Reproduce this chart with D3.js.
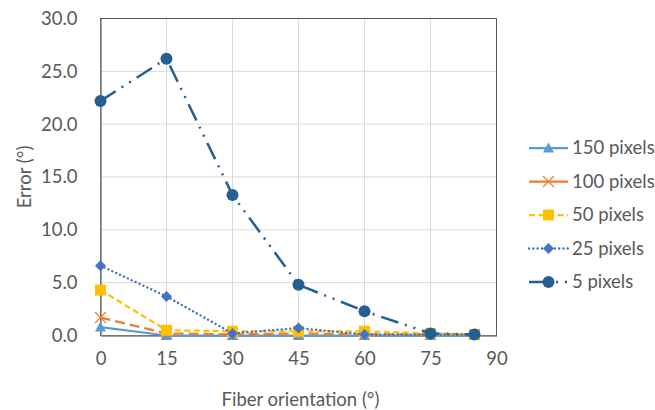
<!DOCTYPE html>
<html>
<head>
<meta charset="utf-8">
<script src="https://cdn.jsdelivr.net/npm/d3@7"></script>
<style>
  html, body { margin: 0; padding: 0; background: #fff; }
  svg { display: block; font-family: "Lato", "Open Sans", sans-serif; }
</style>
</head>
<body>
<svg id="chart" width="655" height="410"></svg>
<script>
// Fiber orientation (degrees) at which each window size was evaluated
const orientations = [0, 15, 30, 45, 60, 75, 85];

// Mean orientation error (degrees) for each window size
const err150 = [0.8, 0.0, 0.0, 0.0, 0.0, 0.0, 0.0];
const err100 = [1.7, 0.2, 0.1, 0.2, 0.1, 0.1, 0.1];
const err50  = [4.3, 0.5, 0.4, 0.4, 0.4, 0.2, 0.1];
const err25  = [6.6, 3.7, 0.2, 0.7, 0.1, 0.1, 0.1];
const err5   = [22.2, 26.2, 13.3, 4.8, 2.3, 0.2, 0.1];

const seriesNames = ["150 pixels", "100 pixels", "50 pixels", "25 pixels", "5 pixels"];
const xTicks = [0, 15, 30, 45, 60, 75, 90];
const yTicks = [0, 5, 10, 15, 20, 25, 30];

const seriesStyle = [
  { color: "#5B9BD5", dash: null,           legendDash: null,           width: 2.25, marker: "triangle" },
  { color: "#ED7D31", dash: "10,5",         legendDash: null,           width: 2.25, marker: "cross" },
  { color: "#FFC000", dash: "6,3.5",        legendDash: "6,3.5",        width: 2.25, marker: "square" },
  { color: "#4472C4", dash: "0.1,4.2",      legendDash: "0.1,4.2",      width: 2.4,  marker: "diamond", cap: "round" },
  { color: "#255E91", dash: "18,7,2,7,2,7", legendDash: "20,7,2,7,2,7", width: 2.5,  marker: "circle" }
];

const seriesValues = [err150, err100, err50, err25, err5];
const series = seriesNames.map((name, i) => ({
  name,
  style: seriesStyle[i],
  points: orientations.map((o, j) => ({ x: o, y: seriesValues[i][j] }))
}));

const svg = d3.select("#chart");
const plot = { left: 100.5, right: 496.5, top: 18.5, bottom: 335.5 };

const x = d3.scaleLinear().domain([0, 90]).range([plot.left, plot.right]);
const y = d3.scaleLinear().domain([0, 30]).range([plot.bottom, plot.top]);

const textColor = "#595959";
const fontSize = 18.5;

// Gridlines
const grid = svg.append("g");
grid.selectAll(".vg").data(xTicks.slice(1, -1)).enter().append("line")
  .attr("x1", d => x(d)).attr("x2", d => x(d))
  .attr("y1", plot.top).attr("y2", plot.bottom)
  .attr("stroke", "#D9D9D9").attr("stroke-width", 1);
grid.selectAll(".hg").data(yTicks.slice(1, -1)).enter().append("line")
  .attr("x1", plot.left).attr("x2", plot.right)
  .attr("y1", d => y(d)).attr("y2", d => y(d))
  .attr("stroke", "#D9D9D9").attr("stroke-width", 1);

// Plot-area border
svg.append("rect")
  .attr("x", plot.left).attr("y", plot.top)
  .attr("width", plot.right - plot.left).attr("height", plot.bottom - plot.top)
  .attr("fill", "none").attr("stroke", "#595959").attr("stroke-width", 1);

// Axes
const xAxis = d3.axisBottom(x).tickValues(xTicks).tickSize(0).tickPadding(16).tickFormat(d3.format("d"));
const yAxis = d3.axisLeft(y).tickValues(yTicks).tickSize(0).tickPadding(23).tickFormat(d3.format(".1f"));

const gx = svg.append("g").attr("transform", `translate(0,${plot.bottom})`).call(xAxis);
const gy = svg.append("g").attr("transform", `translate(${plot.left},0)`).call(yAxis);
[gx, gy].forEach(g => {
  g.select(".domain").attr("stroke", "#808080").attr("stroke-width", 1.5);
  g.selectAll("text").attr("fill", textColor).attr("font-size", fontSize).attr("font-family", "Lato, sans-serif");
});

// Axis titles
svg.append("text")
  .attr("x", (plot.left + plot.right) / 2 + 2).attr("y", 406)
  .attr("text-anchor", "middle").attr("fill", textColor).attr("font-size", fontSize)
  .text("Fiber orientation (°)");
svg.append("text")
  .attr("transform", `translate(31,${(plot.top + plot.bottom) / 2}) rotate(-90)`)
  .attr("text-anchor", "middle").attr("fill", textColor).attr("font-size", fontSize)
  .text("Error (°)");

// Marker drawing
function drawMarker(g, type, color) {
  if (type === "triangle") {
    g.append("path").attr("d", "M0,-5.5 L5.5,4.5 L-5.5,4.5 Z").attr("fill", color);
  } else if (type === "cross") {
    const r = 5.5;
    g.append("path").attr("d", `M${-r},${-r} L${r},${r} M${-r},${r} L${r},${-r}`)
      .attr("stroke", color).attr("stroke-width", 1.2).attr("fill", "none");
  } else if (type === "square") {
    g.append("rect").attr("x", -5.5).attr("y", -5.5).attr("width", 11).attr("height", 11).attr("fill", color);
  } else if (type === "diamond") {
    g.append("path").attr("d", "M0,-5.5 L5.5,0 L0,5.5 L-5.5,0 Z").attr("fill", color);
  } else if (type === "circle") {
    g.append("circle").attr("r", 6).attr("fill", color);
  }
}

const line = d3.line().x(d => x(d.x)).y(d => y(d.y));

series.forEach(s => {
  const g = svg.append("g");
  g.append("path")
    .datum(s.points)
    .attr("d", line)
    .attr("fill", "none")
    .attr("stroke", s.style.color)
    .attr("stroke-width", s.style.width)
    .attr("stroke-dasharray", s.style.dash)
    .attr("stroke-linecap", s.style.cap || "butt")
    .attr("stroke-linejoin", "round");
  s.points.forEach(p => {
    const m = g.append("g").attr("transform", `translate(${x(p.x)},${y(p.y)})`);
    drawMarker(m, s.style.marker, s.style.color);
  });
});

// Legend
const legend = svg.append("g").attr("transform", "translate(529,148)");
series.forEach((s, i) => {
  const row = legend.append("g").attr("transform", `translate(0,${i * 33.5})`);
  row.append("line")
    .attr("x1", 0).attr("x2", 39).attr("y1", 0).attr("y2", 0)
    .attr("stroke", s.style.color)
    .attr("stroke-width", s.style.width)
    .attr("stroke-dasharray", s.style.legendDash)
    .attr("stroke-linecap", s.style.cap || "butt");
  const m = row.append("g").attr("transform", "translate(19.5,0)");
  drawMarker(m, s.style.marker, s.style.color);
  row.append("text")
    .attr("x", 43).attr("y", 0).attr("dy", "0.35em")
    .attr("fill", textColor).attr("font-size", fontSize)
    .text(s.name);
});
</script>
</body>
</html>
